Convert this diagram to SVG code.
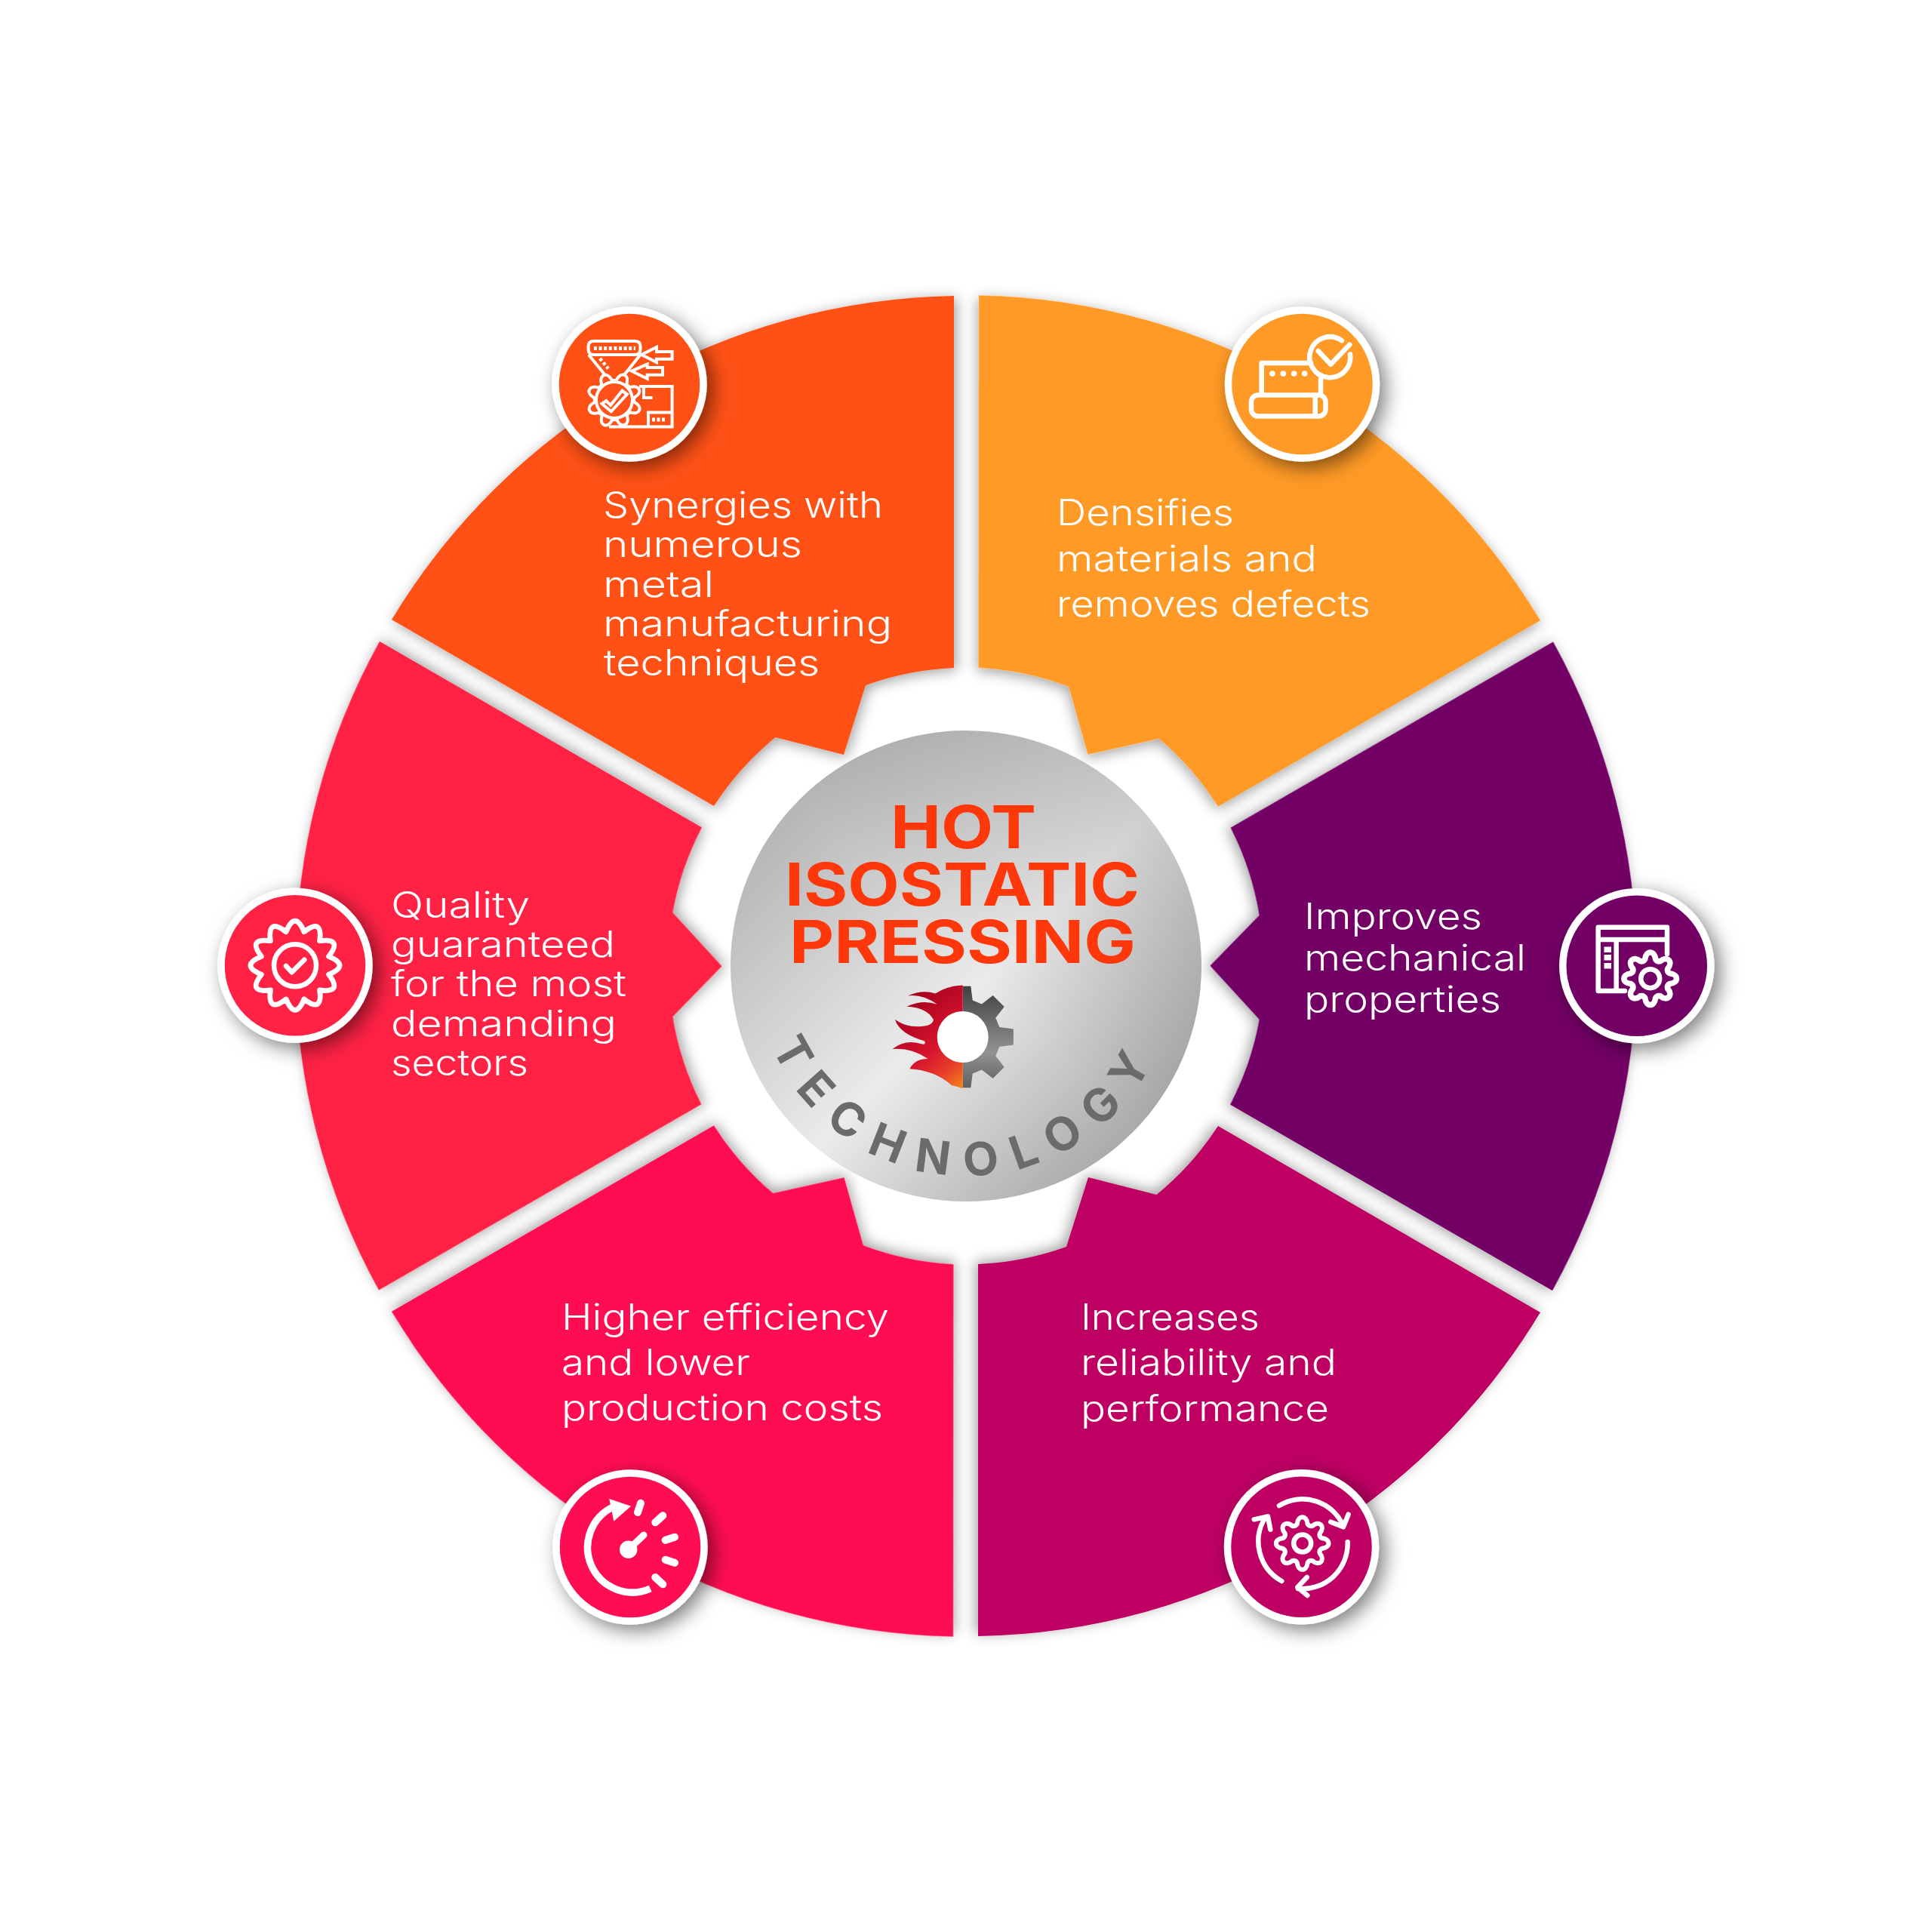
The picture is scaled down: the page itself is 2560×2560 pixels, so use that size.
<svg xmlns="http://www.w3.org/2000/svg" xmlns:xlink="http://www.w3.org/1999/xlink" width="2560" height="2560" viewBox="0 0 2560 2560">
<style>
.t{font-family:Inter,"Liberation Sans",sans-serif;font-weight:300;font-size:47.5px;fill:#fff}
.h{font-family:Inter,"Liberation Sans",sans-serif;font-weight:700;font-size:78px;fill:#FF380B}
.k{font-family:Inter,"Liberation Sans",sans-serif;font-weight:700;font-size:61px;fill:#6B6B6B;letter-spacing:22px}
.seg{filter:url(#ss)}
.ring{fill:none;stroke:#fff;stroke-width:9.5;filter:url(#cs)}
.ic{fill:none;stroke:#fff;stroke-width:6.5;stroke-linecap:round;stroke-linejoin:round}
.ic2{fill:none;stroke:#fff;stroke-width:4;stroke-linecap:butt;stroke-linejoin:miter}
.w{fill:#fff;stroke:none}
</style>
<defs>
<filter id="ss" x="-15%" y="-15%" width="130%" height="130%"><feDropShadow dx="3" dy="3" stdDeviation="9" flood-color="#000" flood-opacity=".38"/></filter>
<filter id="cs" x="-40%" y="-40%" width="190%" height="190%"><feDropShadow dx="8" dy="8" stdDeviation="13" flood-color="#000" flood-opacity=".5"/></filter>
<path id="seg" d="M1264,392V885A395,395 0 0 0 1147,908L1118,1000L1027.5,977A395,395 0 0 0 946,1068L519,821A888,888 0 0 1 1264,392Z"/>
<path id="gear" d="M-19.2,-71.5L-15.6,-98.8L15.6,-98.8L19.2,-71.5L37,-64.1L58.8,-80.9L80.9,-58.8L64.1,-37L71.5,-19.2L98.8,-15.6L98.8,15.6L71.5,19.2L64.1,37L80.9,58.8L58.8,80.9L37,64.1L19.2,71.5L15.6,98.8L-15.6,98.8L-19.2,71.5L-37,64.1L-58.8,80.9L-80.9,58.8L-64.1,37L-71.5,19.2L-98.8,15.6L-98.8,-15.6L-71.5,-19.2L-64.1,-37L-80.9,-58.8L-58.8,-80.9L-37,-64.1Z"/>
<path id="gearR" d="M-19.2,-71.5C-15.6,-105 15.6,-105 19.2,-71.5Q25.3,-61 37,-64.1C62.3,-85.8 85.8,-62.3 64.1,-37Q61,-25.3 71.5,-19.2C105,-15.6 105,15.6 71.5,19.2Q61,25.3 64.1,37C85.8,62.3 62.3,85.8 37,64.1Q25.3,61 19.2,71.5C15.6,105 -15.6,105 -19.2,71.5Q-25.3,61 -37,64.1C-62.3,85.8 -85.8,62.3 -64.1,37Q-61,25.3 -71.5,19.2C-105,15.6 -105,-15.6 -71.5,-19.2Q-61,-25.3 -64.1,-37C-85.8,-62.3 -62.3,-85.8 -37,-64.1Q-25.3,-61 -19.2,-71.5Z"/>
<linearGradient id="disc" gradientUnits="userSpaceOnUse" x1="1060" y1="1060" x2="1500" y2="1500"><stop offset="0" stop-color="#B6B6B6"/><stop offset=".55" stop-color="#EBEBEB"/><stop offset="1" stop-color="#ABABAB"/></linearGradient>
<linearGradient id="disc2" gradientUnits="userSpaceOnUse" x1="1500" y1="1060" x2="1280" y2="1280"><stop offset="0" stop-color="#000" stop-opacity=".12"/><stop offset="1" stop-color="#000" stop-opacity="0"/></linearGradient>
<linearGradient id="flame" gradientUnits="userSpaceOnUse" x1="1190" y1="1330" x2="1280" y2="1435"><stop offset="0" stop-color="#A0001E"/><stop offset=".55" stop-color="#D8142E"/><stop offset=".8" stop-color="#E8402A"/><stop offset="1" stop-color="#F5801C"/></linearGradient>
<linearGradient id="cog" gradientUnits="userSpaceOnUse" x1="0" y1="-100" x2="0" y2="100"><stop offset="0" stop-color="#3F3F3F"/><stop offset=".65" stop-color="#929292"/><stop offset="1" stop-color="#5E5E5E"/></linearGradient>
<clipPath id="half"><rect x="0" y="-110" width="110" height="220"/></clipPath>
<path id="arcT" d="M1023.5,1387.3A278,278 0 0 0 1541.2,1375"/>
</defs>
<rect width="2560" height="2560" fill="#fff"/>

<g id="node-synergies">
<use href="#seg" class="seg" fill="#FF5119"/>
<circle class="ring" cx="834" cy="509" r="98" style="fill:#FF5119"/>
<g id="icon-synergies">
<path class="ic2" d="M847,512H890.6V565.6H807M859,565.6V546.5H890.6M853,512V527H864.6"/>
<path class="ic2" d="M787,452H841Q848.5,452 848.5,459V463Q848.5,470 841,470H787Q779.6,470 779.6,463V459Q779.6,452 787,452ZM780,470L803,498.6M848.5,470L822.5,502.5M850,470L870,460V466H890.6V475.7H870V480ZM837,491.7L857.7,482.6V487H878V496.7H857.7V501.7Z"/>
<path d="M787,461.5H842" fill="none" stroke="#fff" stroke-width="5" stroke-dasharray="4 2.6"/>
<path d="M795,475L806,488.5" fill="none" stroke="#fff" stroke-width="4.5" stroke-dasharray="4 3"/>
<path d="M864,556H881" fill="none" stroke="#fff" stroke-width="5" stroke-dasharray="4 2.5"/>
<use href="#gearR" transform="translate(814 530) rotate(22) scale(.37)" fill="#FF5119" stroke="#fff" stroke-width="11" stroke-linejoin="round"/>
<circle class="ic2" cx="814" cy="530" r="24"/>
<path class="ic2" stroke-width="3" d="M797.6,535L803.3,531.2L809,537L824.4,517.8L830.9,522.4L809.8,545.3Z"/>
</g>
<text class="t"><tspan x="799" y="686" textLength="371" lengthAdjust="spacingAndGlyphs">Synergies with</tspan><tspan x="799" y="738" textLength="264" lengthAdjust="spacingAndGlyphs">numerous</tspan><tspan x="799" y="790.5" textLength="147" lengthAdjust="spacingAndGlyphs">metal</tspan><tspan x="799" y="843" textLength="383" lengthAdjust="spacingAndGlyphs">manufacturing</tspan><tspan x="800" y="895" textLength="286" lengthAdjust="spacingAndGlyphs">techniques</tspan></text>
</g>

<g id="node-densifies">
<use href="#seg" class="seg" transform="rotate(60 1280 1280)" fill="#FF9A26"/>
<circle class="ring" cx="1725.5" cy="509" r="98" style="fill:#FF9A26"/>
<g id="icon-densifies">
<path class="ic" d="M1671.7,523V481H1737M1750,502V523"/>
<rect class="ic" x="1658" y="523.5" width="98.5" height="28" rx="9"/>
<path class="ic" d="M1742.7,525V550"/>
<circle class="w" cx="1686" cy="495" r="3.8"/><circle class="w" cx="1700.3" cy="495" r="3.8"/><circle class="w" cx="1714.7" cy="495" r="3.8"/><circle class="w" cx="1728.7" cy="495" r="3.8"/>
<path class="ic" d="M1778,451.3A27,27 0 1 0 1789,469.4"/>
<path class="ic" d="M1746.7,465L1763.3,482.7L1788.3,456.7"/>
</g>
<text class="t"><tspan x="1400" y="695.5" textLength="235" lengthAdjust="spacingAndGlyphs">Densifies</tspan><tspan x="1400" y="756.5" textLength="345" lengthAdjust="spacingAndGlyphs">materials and</tspan><tspan x="1400" y="817" textLength="416" lengthAdjust="spacingAndGlyphs">removes defects</tspan></text>
</g>

<g id="node-improves">
<use href="#seg" class="seg" transform="rotate(120 1280 1280)" fill="#730065"/>
<circle class="ring" cx="2168.8" cy="1279.7" r="98" style="fill:#730065"/>
<g id="icon-improves">
<path class="ic" stroke-linecap="butt" stroke-linejoin="miter" d="M2209,1264V1228.7H2117.7V1313H2153M2117.7,1245H2209M2141.7,1245V1313"/>
<rect class="w" x="2125.5" y="1254.5" width="9.5" height="7.5"/><rect class="w" x="2125.5" y="1265" width="9.5" height="7.5"/><rect class="w" x="2125.5" y="1276" width="9.5" height="7.5"/>
<use href="#gearR" transform="translate(2186.7 1296.7) scale(.36)" fill="#730065" stroke="#fff" stroke-width="21" stroke-linejoin="round"/>
<circle class="ic" cx="2186.7" cy="1296.7" r="12.5"/>
</g>
<text class="t"><tspan x="1728" y="1230.5" textLength="236" lengthAdjust="spacingAndGlyphs">Improves</tspan><tspan x="1728" y="1285.5" textLength="294" lengthAdjust="spacingAndGlyphs">mechanical</tspan><tspan x="1728" y="1341" textLength="261" lengthAdjust="spacingAndGlyphs">properties</tspan></text>
</g>

<g id="node-increases">
<use href="#seg" class="seg" transform="rotate(180 1280 1280)" fill="#BE0064"/>
<circle class="ring" cx="1724.5" cy="2049.7" r="98" style="fill:#BE0064"/>
<g id="icon-increases">
<use href="#gearR" transform="translate(1725.7 2045) scale(.36)" fill="none" stroke="#fff" stroke-width="17" stroke-linejoin="round"/>
<circle class="ic" cx="1725.7" cy="2045" r="11.5"/>
<path class="ic" d="M1695,1995A59,59 0 0 1 1780,2022M1763.3,2016.7L1780,2023.3L1786.7,2006.7"/>
<path class="ic" d="M1785.7,2043.3A60,60 0 0 1 1720,2105M1731.7,2090L1719.3,2103.3L1732.3,2114"/>
<path class="ic" d="M1698.3,2095A60,60 0 0 1 1677,2010M1661.7,2013.3L1680,2009.3L1683.3,2026.7"/>
</g>
<text class="t"><tspan x="1432" y="1762" textLength="237" lengthAdjust="spacingAndGlyphs">Increases</tspan><tspan x="1432" y="1822" textLength="339" lengthAdjust="spacingAndGlyphs">reliability and</tspan><tspan x="1432" y="1883" textLength="329" lengthAdjust="spacingAndGlyphs">performance</tspan></text>
</g>

<g id="node-efficiency">
<use href="#seg" class="seg" transform="rotate(240 1280 1280)" fill="#FF0B52"/>
<circle class="ring" cx="835" cy="2050" r="98" style="fill:#FF0B52"/>
<g id="icon-efficiency">
<path fill="none" stroke="#fff" stroke-width="9.5" d="M861.7,2105A59,59 0 1 1 814.3,1996"/>
<path class="w" d="M807.3,1986L836,1995.7L813.3,2015.7Z"/>
<circle class="w" cx="832.7" cy="2053.3" r="11.7"/>
<g fill="none" stroke="#fff" stroke-width="10" stroke-linecap="round">
<path stroke-width="9" d="M832.7,2053.3L853,2034"/>
<path d="M849,1991.7L845,2004M878.3,2008.3L868.3,2017.3M894,2036.7L881.7,2040.7M894,2070.7L881.7,2066.7M878.3,2099.3L868.3,2090"/>
</g>
</g>
<text class="t"><tspan x="744" y="1762" textLength="434" lengthAdjust="spacingAndGlyphs">Higher efficiency</tspan><tspan x="744" y="1822" textLength="250" lengthAdjust="spacingAndGlyphs">and lower</tspan><tspan x="744" y="1882" textLength="426" lengthAdjust="spacingAndGlyphs">production costs</tspan></text>
</g>

<g id="node-quality">
<use href="#seg" class="seg" transform="rotate(300 1280 1280)" fill="#FF2344"/>
<circle class="ring" cx="391" cy="1279.3" r="98" style="fill:#FF2344"/>
<g id="icon-quality">
<path class="ic" transform="translate(391 1279.3) scale(1.05)" d="M-11.4,-42.5Q0,-70 11.4,-42.5Q35,-60.6 31.1,-31.1Q60.6,-35 42.5,-11.4Q70,0 42.5,11.4Q60.6,35 31.1,31.1Q35,60.6 11.4,42.5Q0,70 -11.4,42.5Q-35,60.6 -31.1,31.1Q-60.6,35 -42.5,11.4Q-70,0 -42.5,-11.4Q-60.6,-35 -31.1,-31.1Q-35,-60.6 -11.4,-42.5Z"/>
<circle class="ic" cx="391" cy="1279.3" r="28"/>
<path class="ic" stroke-width="8" d="M379,1280L386.7,1288.3L403.3,1271.7"/>
</g>
<text class="t"><tspan x="518" y="1216" textLength="184" lengthAdjust="spacingAndGlyphs">Quality</tspan><tspan x="518" y="1268" textLength="297" lengthAdjust="spacingAndGlyphs">guaranteed</tspan><tspan x="518" y="1320" textLength="312" lengthAdjust="spacingAndGlyphs">for the most</tspan><tspan x="518" y="1373" textLength="299" lengthAdjust="spacingAndGlyphs">demanding</tspan><tspan x="518" y="1425" textLength="182" lengthAdjust="spacingAndGlyphs">sectors</tspan></text>
</g>

<g id="node-center">
<circle cx="1280" cy="1280" r="312" fill="url(#disc)"/>
<circle cx="1280" cy="1280" r="312" fill="url(#disc2)"/>
<text class="h"><tspan x="1180" y="1123.5" textLength="193" lengthAdjust="spacingAndGlyphs">HOT</tspan><tspan x="1040" y="1200" textLength="470" lengthAdjust="spacingAndGlyphs">ISOSTATIC</tspan><tspan x="1046" y="1276" textLength="459" lengthAdjust="spacingAndGlyphs">PRESSING</tspan></text>
<g id="logo">
<g transform="translate(1275.7 1374) scale(.68)" clip-path="url(#half)"><use href="#gear" fill="url(#cog)"/></g>
<path fill="url(#flame)" d="M1275.7,1305.6Q1256,1306 1239.3,1316.4Q1222,1311 1203,1319.5Q1222,1317 1241.7,1330.7Q1222,1324 1201.5,1333.8Q1228,1335 1236.9,1351Q1236,1362 1207.8,1359.8Q1196,1358 1186,1351Q1192,1370 1224.8,1379.3Q1228,1384 1222.3,1383.6Q1200,1376 1182.6,1390Q1208,1388 1229.6,1403Q1212,1403 1205.4,1416.2Q1238,1418 1261,1437.9L1275.7,1442.2Z"/>
<circle cx="1275.7" cy="1374" r="34" fill="#fff"/>
</g>
<text class="k"><textPath href="#arcT" xlink:href="#arcT">TECHNOLOGY</textPath></text>
</g>
</svg>
